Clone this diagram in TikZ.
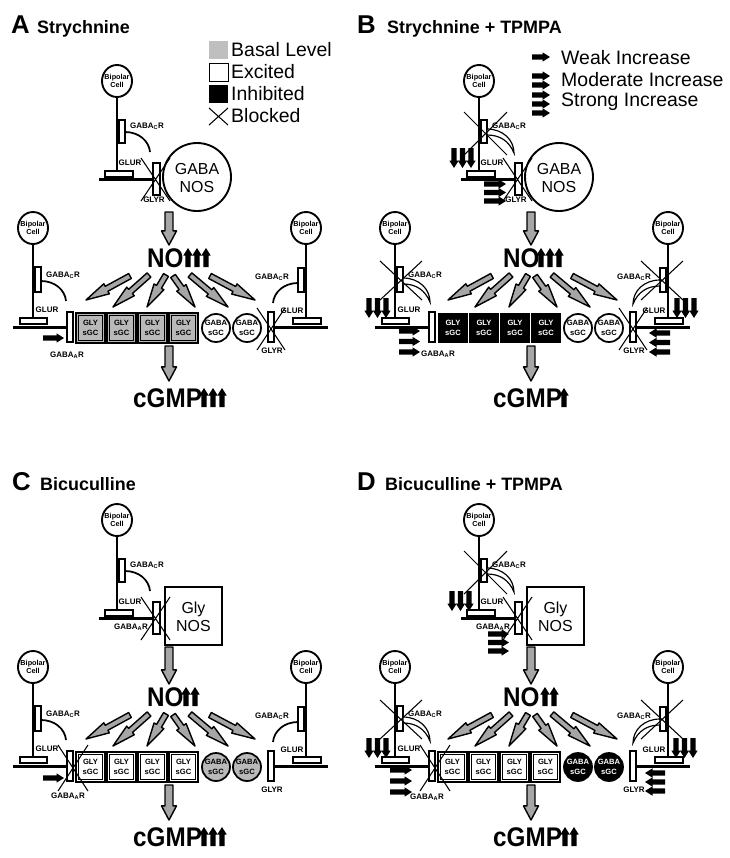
\documentclass[tikz,border=0pt]{standalone}
\usepackage{fontspec}
\usepackage{graphicx}
\setmainfont{Liberation Sans}
\usetikzlibrary{calc}

\tikzset{
  lw/.style={line width=2pt},
  rec/.style={draw, fill=white, line width=1.1pt},
  lbl/.style={font=\bfseries\fontsize{6.8}{7.5}\selectfont, inner sep=0pt},
  bipt/.style={font=\bfseries\fontsize{6.2}{7}\selectfont, align=center, inner sep=0pt},
  sgct/.style={font=\bfseries\fontsize{6.5}{8}\selectfont, align=center, inner sep=0pt},
  nost/.style={font=\fontsize{13.6}{15.5}\selectfont, align=center, inner sep=0pt},
  legt/.style={font=\fontsize{16.6}{18}\selectfont, anchor=west, inner sep=0pt},
  ttl/.style={font=\bfseries\fontsize{22}{22}\selectfont, anchor=base west, inner sep=0pt},
  ttx/.style={font=\bfseries\fontsize{15.3}{16}\selectfont, anchor=base west, inner sep=0pt},
  big/.style={font=\bfseries\fontsize{23}{23}\selectfont, anchor=base west, inner sep=0pt},
  fatsty/.style={draw=black, fill=gray!70, line width=1.2pt, line join=round},
  xl/.style={line width=0.9pt},
}

\newcommand\arrpoly[6]{%
  \coordinate (qA) at (#1);
  \coordinate (qB) at (#2);
  \coordinate (qH) at ($(qB)!#5!(qA)$);
  \path[#6] ($(qA)!#3!90:(qB)$) -- ($(qH)!#3!90:(qB)$) -- ($(qH)!#4!90:(qB)$) -- (qB)
     -- ($(qH)!#4!-90:(qB)$) -- ($(qH)!#3!-90:(qB)$) -- ($(qA)!#3!-90:(qB)$) -- cycle;
}
\newcommand\fatdiag[2]{\arrpoly{#1}{#2}{2.4pt}{4.9pt}{20pt}{fatsty}}
\newcommand\fatvert[2]{\arrpoly{#1}{#2}{3.4pt}{6.4pt}{12pt}{fatsty}}

% small black arrow: tail x, tail y, direction angle, length (px)
\newcommand\sarr[4]{\begin{scope}[shift={(#1,#2)}, rotate=#3]
  \fill[black] (0,-2.6) -- (#4-7.5,-2.6) -- (#4-7.5,-4.7) -- (#4,0) -- (#4-7.5,4.7)
     -- (#4-7.5,2.6) -- (0,2.6) -- cycle;
  \end{scope}}
\newcommand\uparr[2]{\sarr{#1}{#2}{90}{19}}
\newcommand\downtrio[2]{\sarr{#1}{#2}{-90}{20}\sarr{#1+8.5}{#2}{-90}{20}\sarr{#1+17}{#2}{-90}{20}}
\newcommand\htrio[5]{\sarr{#1}{#2}{#3}{#4}\sarr{#1}{#2+#5}{#3}{#4}\sarr{#1}{#2+2*#5}{#3}{#4}}
\newcommand\Xm[4]{\draw[xl] (#1,#2) -- (#3,#4) (#1,#4) -- (#3,#2);}

\newcommand\bipcell[2]{%
  \draw[line width=1.6pt, fill=white] (#1,#2) ellipse [x radius=0.45cm, y radius=0.48cm];
  \node[bipt] at (#1,#2) {Bipolar\\Cell};
}
\newcommand\arcone[3]{\begin{scope}[shift={(#1,#2)}, xscale=#3]
  \draw[line width=1.5pt] (0,0) .. controls (14,0) and (24,9) .. (25,20);
  \end{scope}}
\newcommand\arctwo[3]{\begin{scope}[shift={(#1,#2)}, xscale=#3]
  \draw[line width=1pt, fill=white] (0,-3) .. controls (16,-3) and (27,8) .. (27,21)
     .. controls (22,9) and (13,3) .. (0,3) -- cycle;
  \end{scope}}

\newcommand\topstruct{%
  \draw[lw] (117,96) -- (117,171);
  \bipcell{117}{81}
  \draw[rec] (119,120) rectangle (125,143);
  \draw[rec] (105,171) rectangle (133,177);
  \draw[lw] (99,179.5) -- (153,179.5);
  \node[lbl] at (147,126) {GABA\textsubscript{C}R};
  \node[lbl] at (130,163) {GLUR};
  \draw[rec] (153,163) rectangle (160,195);
}
\newcommand\sidestruct{%
  \draw[lw] (33,240) -- (33,318);
  \bipcell{33}{228}
  \draw[rec] (35,267) rectangle (41,292);
  \draw[rec] (20,318) rectangle (47,324);
  \draw[lw] (13,327.5) -- (67,327.5);
  \draw[rec] (67,312) rectangle (73,342);
  \node[lbl] at (63,275) {GABA\textsubscript{C}R};
  \node[lbl] at (47,310) {GLUR};
  \draw[lw] (306,240) -- (306,318);
  \bipcell{306}{228}
  \draw[rec] (298,268) rectangle (304,292);
  \draw[rec] (293,318) rectangle (321,324);
  \draw[lw] (274,327.5) -- (328,327.5);
  \draw[rec] (268,312) rectangle (274,342);
  \node[lbl] at (272,277) {GABA\textsubscript{C}R};
  \node[lbl] at (292,311) {GLUR};
  \node[lbl] at (272,351) {GLYR};
}
\newcommand\fanarrows{%
  \fatdiag{130,276}{86,300}
  \fatdiag{149,275}{113,307}
  \fatdiag{166,275}{147,307}
  \fatdiag{173,276}{195,307}
  \fatdiag{190,275}{228,307}
  \fatdiag{210,276}{255,300}
}
\newcommand\vertfat[1]{\fatvert{169,#1}{169,245}\fatvert{169,346}{169,381}}
\newcommand\gbox[2]{%
  \draw[line width=1.4pt, fill=#2] (#1,313) rectangle ++(29,30);
  \draw[line width=0.5pt] (#1,313) ++(2.6,2.6) rectangle ++(23.8,24.8);
  \node[sgct] at (#1+14.5,328) {GLY\\sGC};
}
\newcommand\kbox[1]{%
  \fill[black] (#1,313) rectangle ++(30,30);
  \node[sgct, text=white] at (#1+15,328) {GLY\\sGC};
}
\newcommand\gcirc[3]{%
  \draw[line width=1.5pt, fill=#2] (#1,328) circle [radius=0.42cm];
  \node[sgct, text=#3] at (#1,328) {GABA\\sGC};
}
\newcommand\gabanos{%
  \draw[line width=1.6pt, fill=white] (197,177) circle [radius=1.02cm];
  \node[nost] at (197,178) {GABA\\NOS};
}
\newcommand\glynos{%
  \draw[line width=1.6pt, fill=white] (165,148) rectangle (222,206);
  \node[nost] at (193.5,178) {Gly\\NOS};
}
\newcommand\NOtext[1]{\node[big] at (#1,267) {\scalebox{0.9}[1]{NO}};}
\newcommand\cGMPtext[1]{\node[big] at (#1,407) {\scalebox{0.9}[1]{cGMP}};}

\begin{document}
\begin{tikzpicture}[x=0.03cm, y=-0.03cm]
\useasboundingbox (0,0) rectangle (730,858);

% titles
\node[ttl] (tA) at (11,33) {A};
\node[ttx] (tAx) at (37,33) {Strychnine};
\node[ttl] (tB) at (357,33) {B};
\node[ttx] (tBx) at (387,33) {Strychnine + TPMPA};
\node[ttl] (tC) at (12,490) {C};
\node[ttx] (tCx) at (40,490) {Bicuculline};
\node[ttl] (tD) at (357,490) {D};
\node[ttx] (tDx) at (385,490) {Bicuculline + TPMPA};

% legend A
\fill[gray!50] (209,41) rectangle (228,59);
\draw[line width=0.4pt] (209,63) rectangle (228,81);
\fill[black] (209,85) rectangle (228,103);
\draw[line width=0.9pt] (209,108) -- (228,125) (209,125) -- (228,108);
\node[legt] (l1) at (231,50) {Basal Level};
\node[legt] (l2) at (231,72) {Excited};
\node[legt] (l3) at (231,94) {Inhibited};
\node[legt] (l4) at (231,116) {Blocked};

% legend B
\sarr{532}{57}{0}{18}
\sarr{532}{76}{0}{18}\sarr{532}{85}{0}{18}
\sarr{532}{95}{0}{18}\sarr{532}{104}{0}{18}\sarr{532}{113}{0}{18}
\node[legt] (l5) at (561,58) {Weak Increase};
\node[legt] (l6) at (561,80) {Moderate Increase};
\node[legt] (l7) at (561,102) {Strong Increase};

% ---------- Panel A ----------
\begin{scope}
  \topstruct
  \arcone{125}{132}{1}
  \gabanos
  \Xm{141}{158}{170}{201}
  \node[lbl] at (154,200) {GLYR};
  \vertfat{212}
  \NOtext{147}
  \uparr{188}{267}\uparr{197}{267}\uparr{206}{267}
  \fanarrows
  \gbox{76}{gray!55}\gbox{107}{gray!55}\gbox{138}{gray!55}\gbox{169}{gray!55}
  \gcirc{216}{white}{black}\gcirc{247}{white}{black}
  \sidestruct
  \arcone{41}{281}{1}\arcone{298}{283}{-1}
  \sarr{43}{338}{0}{21}
  \node[lbl] at (67,355) {GABA\textsubscript{A}R};
  \Xm{257}{308}{285}{350}
  \cGMPtext{133}
  \uparr{204}{407}\uparr{213}{407}\uparr{222}{407}
\end{scope}

% ---------- Panel B ----------
\begin{scope}[shift={(362,0)}]
  \topstruct
  \arctwo{125}{132}{1}
  \Xm{102}{112}{145}{155}
  \gabanos
  \Xm{141}{158}{170}{201}
  \node[lbl] at (154,200) {GLYR};
  \downtrio{92}{148}
  \htrio{122}{184}{0}{22}{8.5}
  \vertfat{212}
  \NOtext{141}
  \uparr{179}{267}\uparr{188}{267}\uparr{197}{267}
  \fanarrows
  \kbox{76}\kbox{107}\kbox{138}\kbox{169}
  \gcirc{216}{white}{black}\gcirc{247}{white}{black}
  \sidestruct
  \arctwo{41}{281}{1}\arctwo{298}{283}{-1}
  \Xm{18}{261}{60}{300}\Xm{279}{261}{321}{300}
  \downtrio{7}{298}\downtrio{315}{298}
  \htrio{37}{331}{0}{21}{10.5}
  \htrio{308}{333}{180}{21}{9.5}
  \node[lbl] at (76,354) {GABA\textsubscript{A}R};
  \Xm{257}{308}{285}{350}
  \cGMPtext{131}
  \uparr{202}{407}
\end{scope}

% ---------- Panel C ----------
\begin{scope}[shift={(0,439)}]
  \topstruct
  \arcone{125}{132}{1}
  \glynos
  \Xm{141}{158}{170}{201}
  \node[lbl] at (131,188) {GABA\textsubscript{A}R};
  \vertfat{208}
  \NOtext{147}
  \uparr{186}{267}\uparr{195}{267}
  \fanarrows
  \gbox{76}{white}\gbox{107}{white}\gbox{138}{white}\gbox{169}{white}
  \gcirc{216}{gray!55}{black}\gcirc{247}{gray!55}{black}
  \sidestruct
  \arcone{41}{281}{1}\arcone{298}{283}{-1}
  \sarr{43}{339}{0}{21}
  \Xm{58}{306}{88}{352}
  \node[lbl] at (68,357) {GABA\textsubscript{A}R};
  \cGMPtext{133}
  \uparr{204}{407}\uparr{213}{407}\uparr{222}{407}
\end{scope}

% ---------- Panel D ----------
\begin{scope}[shift={(362,439)}]
  \topstruct
  \arctwo{125}{132}{1}
  \Xm{102}{112}{145}{155}
  \glynos
  \Xm{141}{158}{170}{201}
  \node[lbl] at (131,188) {GABA\textsubscript{A}R};
  \downtrio{90}{152}
  \htrio{126}{195}{0}{21}{8.5}
  \vertfat{208}
  \NOtext{141}
  \uparr{183}{267}\uparr{192}{267}
  \fanarrows
  \gbox{76}{white}\gbox{107}{white}\gbox{138}{white}\gbox{169}{white}
  \gcirc{216}{black}{white}\gcirc{247}{black}{white}
  \sidestruct
  \arctwo{41}{281}{1}\arctwo{298}{283}{-1}
  \Xm{18}{261}{60}{300}\Xm{279}{261}{321}{300}
  \downtrio{7}{299}\downtrio{314}{299}
  \htrio{28}{331}{0}{22}{11}
  \htrio{303}{334}{180}{20}{9}
  \Xm{58}{306}{88}{352}
  \node[lbl] at (65,358) {GABA\textsubscript{A}R};
  \cGMPtext{131}
  \uparr{203}{407}\uparr{212}{407}
\end{scope}
\end{tikzpicture}
\end{document}
